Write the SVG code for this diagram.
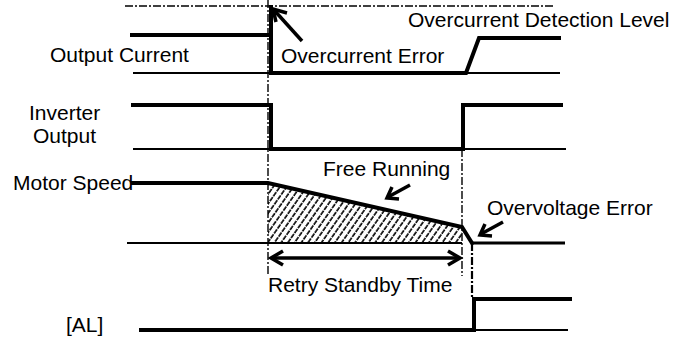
<svg xmlns="http://www.w3.org/2000/svg" width="691" height="338" viewBox="0 0 691 338">
<style>
  text { font-family: "Liberation Sans", Arial, sans-serif; font-size: 21px; fill: #000; }
  .thick { stroke: #000; stroke-width: 4; fill: none; stroke-linecap: square; }
  .thin { stroke: #000; stroke-width: 2; fill: none; }
  .dash { stroke: #000; stroke-width: 1.4; fill: none; stroke-dasharray: 8 2 2 2; }
  .ptr { stroke: #000; stroke-width: 3.5; fill: none; }
  .head { stroke: #000; stroke-width: 3.5; fill: none; stroke-linejoin: miter; }
</style>
<defs>
  <pattern id="hatch" patternUnits="userSpaceOnUse" width="5.5" height="6" patternTransform="rotate(35)">
    <line x1="1" y1="0" x2="1" y2="6" stroke="#000" stroke-width="1.6" stroke-dasharray="4 1"/>
  </pattern>
</defs>

<g id="guides">
  <line class="dash" x1="125" y1="6" x2="553" y2="6"/>
  <line class="dash" x1="268" y1="0" x2="268" y2="276"/>
  <line class="dash" x1="462" y1="149" x2="462" y2="276"/>
  <line class="dash" x1="472" y1="243" x2="472" y2="299" style="stroke-width:2.2"/>
</g>

<g id="output-current">
  <text x="50" y="62">Output Current</text>
  <line class="thin" x1="133" y1="73" x2="270" y2="73"/>
  <line class="thin" x1="466" y1="73" x2="560" y2="73"/>
  <polyline class="thick" points="132,35 271,35 271,5 271,73 466,73 479,38 559,38"/>
</g>

<g id="inverter-output">
  <text x="29" y="120">Inverter</text>
  <text x="33" y="143">Output</text>
  <line class="thin" x1="133" y1="149" x2="270" y2="149"/>
  <line class="thin" x1="463" y1="149" x2="566" y2="149"/>
  <polyline class="thick" points="133,105 271,105 271,149 463,149 463,105 561,105"/>
</g>

<g id="motor-speed">
  <text x="13" y="190">Motor Speed</text>
  <polygon points="268,183 462,227 462,243 268,243" fill="url(#hatch)" stroke="none"/>
  <line class="thin" x1="127" y1="243" x2="462" y2="243"/>
  <polyline class="thick" points="133,183 268,183 462,227 472,243"/>
  <line stroke="#000" stroke-width="3" x1="472" y1="243" x2="565" y2="243"/>
</g>

<g id="al">
  <text x="66" y="332">[AL]</text>
  <line class="thin" x1="474" y1="330" x2="568" y2="330"/>
  <polyline class="thick" points="141,330 474,330 474,299 570,299"/>
</g>

<g id="labels">
  <text x="281" y="63">Overcurrent Error</text>
  <text x="408" y="27">Overcurrent Detection Level</text>
  <text x="323" y="176">Free Running</text>
  <text x="487" y="215">Overvoltage Error</text>
  <text x="268" y="292">Retry Standby Time</text>
</g>

<g id="connectors">
  <line class="ptr" x1="302" y1="41" x2="274" y2="10"/>
  <polyline class="head" points="287,13 273,9 276,22"/>
  <line class="ptr" x1="410" y1="185" x2="388" y2="197"/>
  <polyline class="head" points="392,187 387,198 399,199"/>
  <line class="ptr" x1="503" y1="222" x2="481" y2="234"/>
  <polyline class="head" points="485,224 480,235 492,236"/>
  <line class="ptr" x1="271" y1="258" x2="460" y2="258"/>
  <polyline class="head" points="283,251 271,258 283,265"/>
  <polyline class="head" points="448,251 460,258 448,265"/>
</g>
</svg>
